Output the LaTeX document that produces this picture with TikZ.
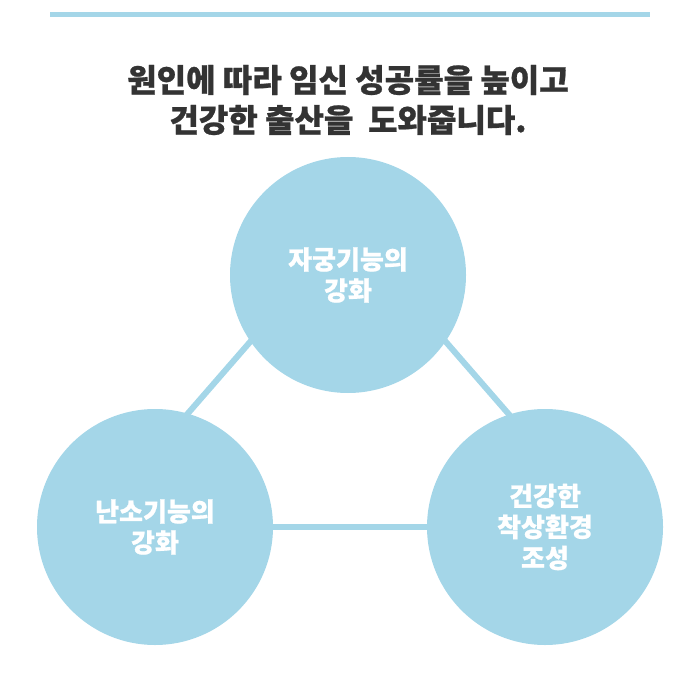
\documentclass[tikz,border=0pt]{standalone}
\usepackage{fontspec}
\setmainfont{Noto Sans CJK KR}
\newfontfamily\heavy{Noto Sans CJK KR Black}[BoldFont={Noto Sans CJK KR Black},BoldFeatures={FakeBold=0.8}]
\definecolor{sky}{HTML}{A4D6E8}
\definecolor{ink}{HTML}{333333}
\begin{document}
\begin{tikzpicture}[x=1pt,y=-1pt,
  bubble/.style={circle,fill=sky,minimum size=236pt,inner sep=0pt,text=white,font=\heavy\bfseries\fontsize{26}{31}\selectfont,align=center},
  link/.style={draw=sky,line width=6pt}]
\useasboundingbox (0,0) rectangle (700,700);
\draw[draw=sky,line width=5pt] (50,14.5) -- (650,14.5);
\node[font=\heavy\bfseries\fontsize{32}{40}\selectfont,text=ink,align=center] (title) at (348,100) {원인에 따라 임신 성공률을 높이고\\건강한 출산을~~도와줍니다.};
\coordinate (a1) at (270,319);
\coordinate (a2) at (170,434);
\coordinate (b1) at (426,319);
\coordinate (b2) at (526,434);
\draw[link] (a1) -- (a2);
\draw[link] (b1) -- (b2);
\node[bubble] (top) at (348,275) {자궁기능의\\강화};
\node[bubble] (left) at (155,527) {난소기능의\\강화};
\node[bubble] (right) at (545,527) {건강한\\착상환경\\조성};
\draw[link] (left.east) -- (right.west);
\end{tikzpicture}
\end{document}
